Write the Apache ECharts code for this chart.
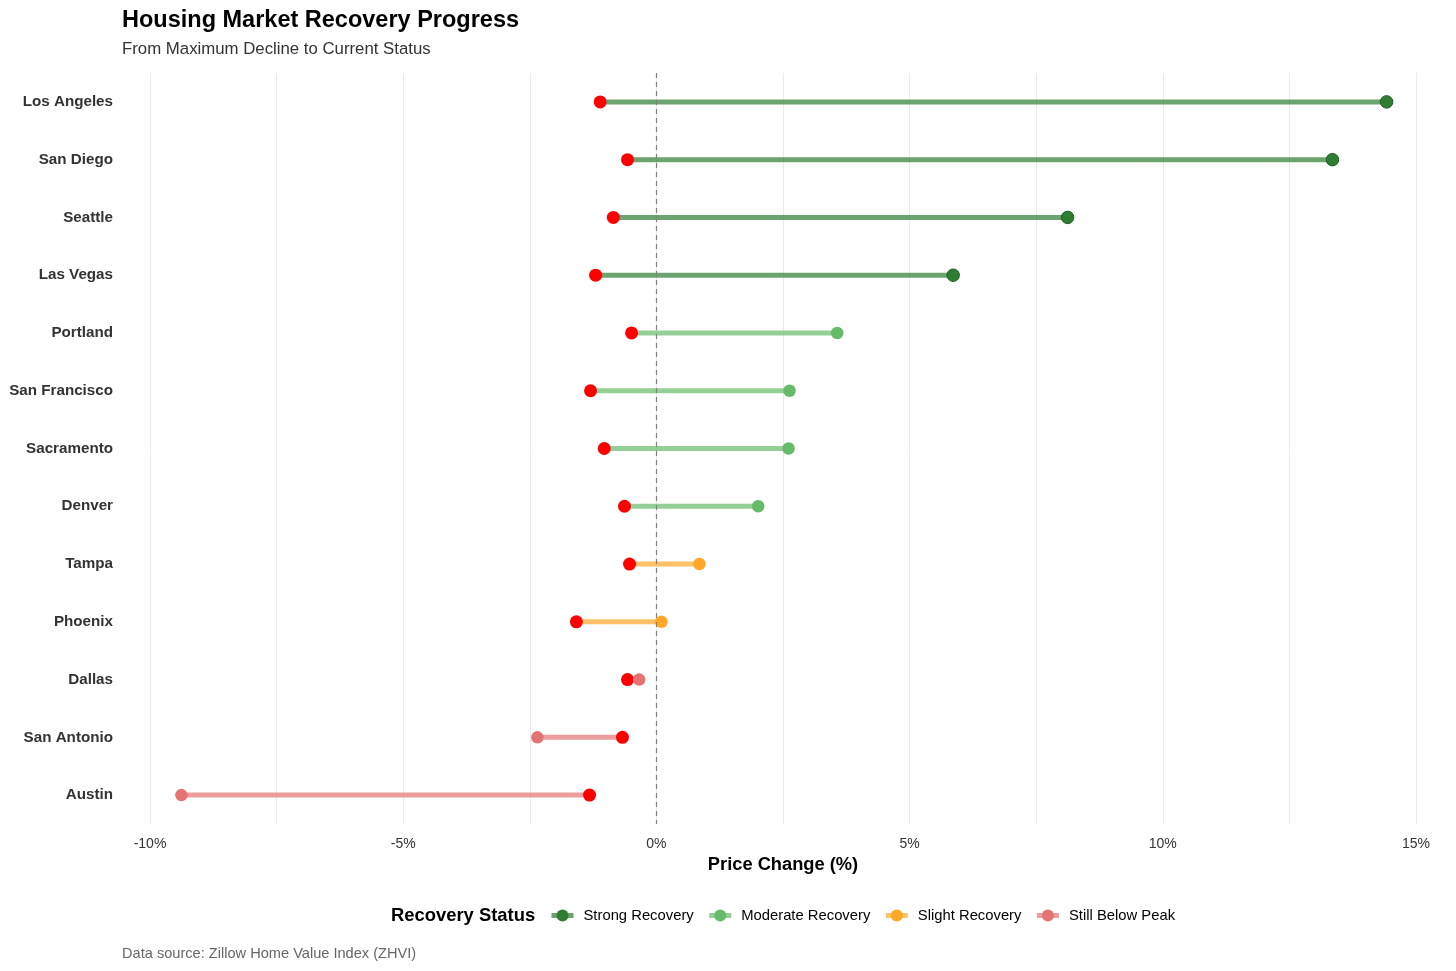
<!DOCTYPE html>
<html>
<head>
<meta charset="utf-8">
<script src="https://cdn.jsdelivr.net/npm/echarts@6/dist/echarts.min.js"></script>
<style>
html,body{margin:0;padding:0;background:#fff;}
#chart{width:1456px;height:971px;}
</style>
</head>
<body>
<div id="chart"></div>
<script>
const cities = ['Los Angeles','San Diego','Seattle','Las Vegas','Portland','San Francisco','Sacramento','Denver','Tampa','Phoenix','Dallas','San Antonio','Austin'];
const maxDecline = [-1.11,-0.57,-0.85,-1.20,-0.49,-1.30,-1.03,-0.63,-0.53,-1.58,-0.57,-0.67,-1.32];
const currentChange = [14.42,13.35,8.12,5.86,3.57,2.63,2.61,2.01,0.85,0.10,-0.34,-2.35,-9.38];
const statusOf = ['Strong Recovery','Strong Recovery','Strong Recovery','Strong Recovery','Moderate Recovery','Moderate Recovery','Moderate Recovery','Moderate Recovery','Slight Recovery','Slight Recovery','Still Below Peak','Still Below Peak','Still Below Peak'];
const statusNames = ['Strong Recovery','Moderate Recovery','Slight Recovery','Still Below Peak'];
const statusColors = ['#2e7d32','#66bb6a','#ffa726','#e57373'];
const xTickLabels = {'-10':'-10%','-5':'-5%','0':'0%','5':'5%','10':'10%','15':'15%'};

const FONT = '"Liberation Sans", Arial, Helvetica, sans-serif';
const chart = echarts.init(document.getElementById('chart'));

const lineSeries = statusNames.map((s, k) => {
  const data = [];
  cities.forEach((c, i) => {
    if (statusOf[i] === s) {
      data.push({value: [maxDecline[i], i], symbol: 'none'});
      data.push({value: [currentChange[i], i], symbol: 'none'});
      data.push({value: ['-', '-'], symbol: 'none'});
    }
  });
  return {
    name: s,
    type: 'line',
    data: data,
    connectNulls: false,
    symbol: 'circle',
    symbolSize: 12,
    showSymbol: true,
    z: 2,
    silent: true,
    lineStyle: {color: statusColors[k], width: 5, opacity: 0.7},
    itemStyle: {color: statusColors[k], opacity: 1},
    animation: false
  };
});

const option = {
  animation: false,
  backgroundColor: '#ffffff',
  textStyle: {fontFamily: FONT},
  title: {
    text: 'Housing Market Recovery Progress',
    subtext: 'From Maximum Decline to Current Status',
    left: 117, top: 4, itemGap: 8,
    textStyle: {fontFamily: FONT, fontSize: 23.5, fontWeight: 'bold', color: '#000'},
    subtextStyle: {fontFamily: FONT, fontSize: 16.8, color: '#333'}
  },
  grid: {left: 150, right: 40, top: 73, bottom: 147, containLabel: false},
  xAxis: {
    type: 'value', min: -10, max: 15, interval: 2.5,
    name: 'Price Change (%)', nameLocation: 'middle', nameGap: 30,
    nameTextStyle: {fontFamily: FONT, fontSize: 18.3, fontWeight: 'bold', color: '#000'},
    axisLine: {show: false}, axisTick: {show: false},
    axisLabel: {fontFamily: FONT, fontSize: 14, color: '#333', margin: 13,
      formatter: v => xTickLabels[String(v)] !== undefined ? xTickLabels[String(v)] : ''},
    splitLine: {show: true, lineStyle: {color: '#ebebeb', width: 1}}
  },
  yAxis: {
    type: 'category', data: cities, inverse: true,
    axisLine: {show: false}, axisTick: {show: false},
    axisLabel: {fontFamily: FONT, fontSize: 15.2, fontWeight: 'bold', color: '#333', margin: 37},
    splitLine: {show: false}
  },
  legend: {
    data: statusNames,
    left: 544, top: 903,
    itemWidth: 22, itemHeight: 15, itemGap: 13,
    lineStyle: {width: 5, opacity: 0.7},
    textStyle: {fontFamily: FONT, fontSize: 14.8, color: '#000', padding: [0,0,0,5]}
  },
  graphic: [
    {type: 'text', x: 391, y: 916, style: {text: 'Recovery Status', font: 'bold 18.4px ' + FONT, fill: '#000', verticalAlign: 'middle'}},
    {type: 'text', x: 122, y: 954, style: {text: 'Data source: Zillow Home Value Index (ZHVI)', font: '14.6px ' + FONT, fill: '#666', verticalAlign: 'middle'}}
  ],
  series: [
    ...lineSeries,
    {
      name: 'Maximum Decline', type: 'scatter', z: 3, silent: true,
      symbolSize: 13,
      itemStyle: {color: '#ff0000', opacity: 1},
      data: cities.map((c, i) => [maxDecline[i], i]),
      markLine: {
        silent: true, symbol: 'none', label: {show: false},
        lineStyle: {color: '#808080', type: [5, 4], width: 1.2},
        data: [{xAxis: 0}]
      }
    },
    {
      name: 'Current', type: 'scatter', z: 4, silent: true,
      symbolSize: 12.5,
      data: cities.map((c, i) => ({
        value: [currentChange[i], i],
        itemStyle: {color: statusColors[statusNames.indexOf(statusOf[i])],
          borderColor: statusOf[i] === 'Strong Recovery' ? '#1b5e20' : 'rgba(0,0,0,0)', borderWidth: 1, opacity: 1}
      }))
    }
  ]
};
chart.setOption(option);
</script>
</body>
</html>
